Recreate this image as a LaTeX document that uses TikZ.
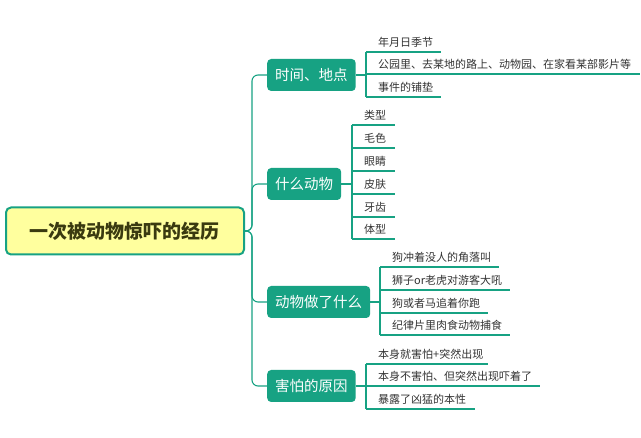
\documentclass[tikz,border=0pt]{standalone}
\usepackage{fontspec}
\setmainfont{Noto Sans CJK SC}
\definecolor{gr}{HTML}{17A283}
\definecolor{yel}{HTML}{FFFF9E}
\definecolor{txt}{HTML}{333333}
\definecolor{roottxt}{HTML}{3A3A10}
\tikzset{
  conn/.style={draw=gr, line width=1.1pt},
  branch/.style={fill=gr, rounded corners=4pt, text=white, font=\fontsize{14.5}{15}\selectfont, inner xsep=8pt, minimum height=32pt},
  leaftxt/.style={inner sep=0pt, anchor=base west, text=txt, font=\fontsize{11}{12}\selectfont},
}
\newcommand\leafitem[5]{%
  \coordinate (#1s) at (#2,#3);
  \coordinate (#1e) at (#4,#3);
  \node[leaftxt] (#1) at ({#2+12},{#3-5}) {#5};
  \draw[conn] (#1s) -- (#1e);
}
\begin{document}
\begin{tikzpicture}[x=1pt,y=-1pt]
\useasboundingbox (0,0) rectangle (641,438);
\node[draw=gr, line width=2pt, fill=yel, rounded corners=5pt, minimum width=238pt, minimum height=47pt,
  font=\fontsize{19}{19}\selectfont\bfseries, text=roottxt] (root) at (125,231) {一次被动物惊吓的经历};
\node[branch, anchor=west] (b1) at (267,75) {时间、地点};
\node[branch, anchor=west] (b2) at (267,184) {什么动物};
\node[branch, anchor=west] (b3) at (267,302) {动物做了什么};
\node[branch, anchor=west] (b4) at (267,386) {害怕的原因};
\coordinate (tr) at (252,231);
\foreach \b in {b1,b2,b3,b4}{\draw[conn, rounded corners=6pt] (root.east) -- (tr) |- (\b.west);}
% branch 1
\leafitem{a1}{366}{52}{441}{年月日季节}
\leafitem{a2}{366}{74}{640}{公园里、去某地的路上、动物园、在家看某部影片等}
\leafitem{a3}{366}{97}{441}{事件的铺垫}
\coordinate (v1) at (366,75);
\draw[conn] (a1s) -- (a3s); \draw[conn] (b1.east) -- (v1);
% branch 2
\leafitem{c1}{352}{125}{395}{类型}
\leafitem{c2}{352}{148}{395}{毛色}
\leafitem{c3}{352}{171}{395}{眼睛}
\leafitem{c4}{352}{194}{395}{皮肤}
\leafitem{c5}{352}{217}{395}{牙齿}
\leafitem{c6}{352}{239}{395}{体型}
\coordinate (v2) at (352,184);
\draw[conn] (c1s) -- (c6s); \draw[conn] (b2.east) -- (v2);
% branch 3
\leafitem{d1}{380}{267}{499}{狗冲着没人的角落叫}
\leafitem{d2}{380}{290}{510}{狮子or老虎对游客大吼}
\leafitem{d3}{380}{313}{488}{狗或者马追着你跑}
\leafitem{d4}{380}{335}{510}{纪律片里肉食动物捕食}
\coordinate (v3) at (380,302);
\draw[conn] (d1s) -- (d4s); \draw[conn] (b3.east) -- (v3);
% branch 4
\leafitem{e1}{366}{364}{488}{本身就害怕+突然出现}
\leafitem{e2}{366}{386}{540}{本身不害怕、但突然出现吓着了}
\leafitem{e3}{366}{409}{475}{暴露了凶猛的本性}
\coordinate (v4) at (366,386);
\draw[conn] (e1s) -- (e3s); \draw[conn] (b4.east) -- (v4);
\end{tikzpicture}
\end{document}
